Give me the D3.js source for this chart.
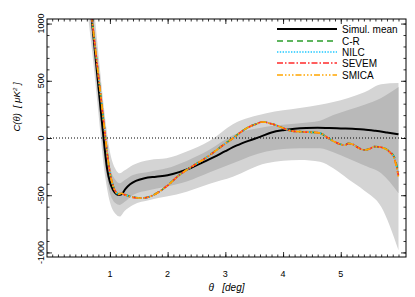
<!DOCTYPE html>
<html>
<head>
<meta charset="utf-8">
<script src="https://cdn.jsdelivr.net/npm/d3@7"></script>
<style>
  body { margin: 0; background: #fff; }
  text { font-family: "Liberation Sans", Arial, Helvetica, sans-serif; fill: #000; }
</style>
</head>
<body>
<div id="chart"></div>
<script>
// simulated mean and confidence bands
const meanTheta = [0.64, 0.69, 0.75, 0.80, 0.85, 0.89, 0.95, 1.00, 1.05, 1.10, 1.15, 1.20, 1.27, 1.35, 1.45, 1.60, 1.80, 2.00, 2.20, 2.40, 2.60, 2.80, 3.00, 3.20, 3.40, 3.60, 3.80, 4.00, 4.20, 4.40, 4.60, 4.80, 5.00, 5.20, 5.40, 5.60, 5.80, 6.00];
const meanValues = [1270, 1015, 710, 455, 200, 0, -265, -385, -450, -485, -498, -492, -445, -405, -375, -352, -338, -325, -298, -262, -215, -168, -115, -65, -25, 10, 48, 68, 80, 87, 90, 88, 84, 80, 75, 63, 48, 32];

const bandTheta = [0.60, 0.70, 0.80, 0.90, 1.00, 1.10, 1.17, 1.25, 1.40, 1.69, 1.98, 2.33, 2.73, 3.13, 3.71, 4.29, 4.64, 4.87, 5.13, 5.41, 5.70, 6.00];
const band2Upper = [1900, 1280, 740, 250, -120, -275, -309, -285, -236, -192, -178, -119, -25, 120, 216, 262, 290, 315, 350, 400, 470, 480];
const band2Lower = [1150, 720, 220, -270, -560, -665, -687, -640, -585, -541, -512, -469, -400, -338, -221, -192, -207, -265, -360, -460, -600, -980];
const band1Upper = [1700, 1130, 600, 110, -250, -370, -396, -370, -323, -294, -265, -200, -100, 24, 99, 128, 150, 200, 245, 290, 350, 445];
const band1Lower = [1350, 850, 340, -170, -480, -570, -585, -560, -498, -454, -425, -381, -300, -221, -119, -90, -90, -125, -180, -240, -309, -483];

// observed maps
const obsTheta = [0.64, 0.70, 0.80, 0.90, 0.95, 1.00, 1.05, 1.10, 1.15, 1.20, 1.26, 1.35, 1.45, 1.55, 1.66, 1.75, 1.86, 2.00, 2.20, 2.33, 2.45, 2.60, 2.73, 2.85, 3.00, 3.13, 3.25, 3.42, 3.55, 3.63, 3.70, 3.77, 3.85, 3.94, 4.03, 4.12, 4.20, 4.29, 4.40, 4.50, 4.64, 4.78, 4.90, 5.01, 5.07, 5.13, 5.22, 5.30, 5.42, 5.50, 5.58, 5.66, 5.76, 5.85, 5.93, 5.97, 6.00];
const crValues    = [1260, 995, 550, 112, -118, -298, -408, -468, -490, -482, -495, -510, -520, -524, -517, -499, -467, -414, -324, -278, -239, -194, -149, -104, -47, -2, 46, 100, 126, 140, 138, 128, 117, 99, 80, 64, 58, 55, 52, 50, 42, 0, -35, -57, -62, -47, -57, -84, -104, -94, -75, -77, -90, -120, -170, -240, -300];
const nilcValues  = [1262, 996, 551, 111, -119, -299, -409, -469, -491, -483, -496, -511, -521, -525, -518, -500, -468, -415, -325, -279, -240, -195, -150, -105, -48, -3, 45, 99, 125, 141, 139, 128, 117, 99, 80, 64, 58, 55, 52, 50, 42, 0, -35, -58, -63, -48, -58, -85, -105, -95, -76, -78, -91, -123, -178, -255, -320];
const sevemValues = [1261, 995, 550, 110, -120, -300, -410, -470, -492, -483, -497, -512, -522, -525, -518, -500, -468, -415, -325, -279, -240, -195, -150, -105, -48, -3, 45, 99, 125, 140, 138, 128, 117, 99, 80, 64, 58, 55, 52, 50, 42, 0, -35, -58, -63, -48, -58, -85, -105, -95, -76, -78, -92, -124, -182, -260, -330];
const smicaValues = [1260, 995, 550, 110, -120, -300, -410, -470, -492, -483, -497, -512, -522, -525, -518, -500, -468, -415, -325, -279, -240, -195, -150, -105, -48, -3, 45, 99, 125, 140, 138, 128, 117, 99, 80, 64, 58, 55, 52, 50, 42, 0, -35, -58, -63, -48, -58, -85, -105, -95, -76, -78, -92, -125, -185, -265, -345];

const seriesNames = ["Simul. mean", "C-R", "NILC", "SEVEM", "SMICA"];
const seriesColors = ["#000000", "#2a9d2a", "#1ec8ff", "#ff2a2a", "#ffa500"];
const seriesDashes = [null, "6,4", "1.4,1.4", "6,2,1.5,2", "6,2,1.5,2,1.5,2,1.5,2"];

const xMajor = [1, 2, 3, 4, 5];
const yMajor = [-1000, -500, 0, 500, 1000];

const width = 415, height = 297;
const pLeft = 47, pRight = 406, pTop = 19, pBottom = 257;

const svg = d3.select("#chart").append("svg")
    .attr("width", width)
    .attr("height", height);

const x = d3.scaleLinear().domain([-0.09, 6.13]).range([pLeft, pRight]);
const y = d3.scaleLinear().domain([-1040, 1040]).range([pBottom, pTop]);

svg.append("clipPath").attr("id", "clip")
    .append("rect")
    .attr("x", pLeft).attr("y", pTop)
    .attr("width", pRight - pLeft).attr("height", pBottom - pTop);

const plot = svg.append("g").attr("clip-path", "url(#clip)");

// bandes 2 sigma puis 1 sigma
const bandArea = (lo, hi) => d3.area()
    .curve(d3.curveMonotoneX)
    .x((d, i) => x(bandTheta[i]))
    .y0((d, i) => y(lo[i]))
    .y1((d, i) => y(hi[i]));

plot.append("path")
    .datum(bandTheta)
    .attr("d", bandArea(band2Lower, band2Upper))
    .attr("fill", "#d4d4d4");

plot.append("path")
    .datum(bandTheta)
    .attr("d", bandArea(band1Lower, band1Upper))
    .attr("fill", "#b9b9b9");

// zero line
plot.append("line")
    .attr("x1", pLeft).attr("x2", pRight)
    .attr("y1", y(0)).attr("y2", y(0))
    .attr("stroke", "#000")
    .attr("stroke-width", 1)
    .attr("stroke-dasharray", "1,2");

const line = d3.line()
    .curve(d3.curveMonotoneX)
    .x(d => x(d[0]))
    .y(d => y(d[1]));

const series = [
    meanTheta.map((t, i) => [t, meanValues[i]]),
    obsTheta.map((t, i) => [t, crValues[i]]),
    obsTheta.map((t, i) => [t, nilcValues[i]]),
    obsTheta.map((t, i) => [t, sevemValues[i]]),
    obsTheta.map((t, i) => [t, smicaValues[i]])
];

series.forEach((s, k) => {
    plot.append("path")
        .datum(s)
        .attr("d", line)
        .attr("fill", "none")
        .attr("stroke", seriesColors[k])
        .attr("stroke-width", k === 0 ? 2 : 1.7)
        .attr("stroke-dasharray", seriesDashes[k]);
});

// axes: ticks inward on all four sides
const xMinor = d3.range(0, 61).map(i => i / 10);
const yMinor = d3.range(-10, 11).map(i => i * 100);

function addAxis(axisFn, scale, pos, vals, size) {
    const g = svg.append("g")
        .attr("transform", pos)
        .call(axisFn(scale).tickValues(vals).tickSize(-size).tickFormat(""));
    g.select(".domain").remove();
    g.selectAll("line").attr("stroke", "#000").attr("stroke-width", 0.8);
}

addAxis(d3.axisBottom, x, `translate(0,${pBottom})`, xMinor, 2.5);
addAxis(d3.axisBottom, x, `translate(0,${pBottom})`, xMajor, 5);
addAxis(d3.axisTop, x, `translate(0,${pTop})`, xMinor, 2.5);
addAxis(d3.axisTop, x, `translate(0,${pTop})`, xMajor, 5);
addAxis(d3.axisLeft, y, `translate(${pLeft},0)`, yMinor, 2.5);
addAxis(d3.axisLeft, y, `translate(${pLeft},0)`, yMajor, 5);
addAxis(d3.axisRight, y, `translate(${pRight},0)`, yMinor, 2.5);
addAxis(d3.axisRight, y, `translate(${pRight},0)`, yMajor, 5);

svg.append("rect")
    .attr("x", pLeft).attr("y", pTop)
    .attr("width", pRight - pLeft).attr("height", pBottom - pTop)
    .attr("fill", "none")
    .attr("stroke", "#000")
    .attr("stroke-width", 1);

// tick labels
svg.selectAll(".xlab")
    .data(xMajor).enter().append("text")
    .attr("x", d => x(d))
    .attr("y", 277)
    .attr("text-anchor", "middle")
    .style("font-size", "9px")
    .text(d => d);

svg.selectAll(".ylab")
    .data(yMajor).enter().append("text")
    .attr("transform", d => `translate(43.5,${y(d)}) rotate(-90)`)
    .attr("text-anchor", "middle")
    .style("font-size", "9px")
    .text(d => d);

// titres
svg.append("text")
    .attr("x", (pLeft + pRight) / 2)
    .attr("y", 291)
    .attr("text-anchor", "middle")
    .style("font-size", "10px")
    .style("font-style", "italic")
    .attr("xml:space", "preserve")
    .text("\u03b8   [deg]");

const ytitle = svg.append("text")
    .attr("transform", "translate(20,107) rotate(-90)")
    .attr("text-anchor", "middle")
    .style("font-size", "9.5px")
    .style("font-style", "italic")
    .attr("xml:space", "preserve");
ytitle.append("tspan").text("C(\u03b8)  [ \u03bcK");
ytitle.append("tspan").attr("dy", -3).style("font-size", "6px").text("2");
ytitle.append("tspan").attr("dy", 3).text(" ]");

// legende
const legendY = [29, 41, 52, 63, 75];
const legend = svg.append("g");
seriesNames.forEach((name, k) => {
    legend.append("line")
        .attr("x1", 277).attr("x2", 337)
        .attr("y1", legendY[k]).attr("y2", legendY[k])
        .attr("stroke", seriesColors[k])
        .attr("stroke-width", k === 0 ? 2 : 1.7)
        .attr("stroke-dasharray", seriesDashes[k]);
    legend.append("text")
        .attr("x", 342)
        .attr("y", legendY[k] + 3.5)
        .style("font-size", "10px")
        .text(name);
});
</script>
</body>
</html>
